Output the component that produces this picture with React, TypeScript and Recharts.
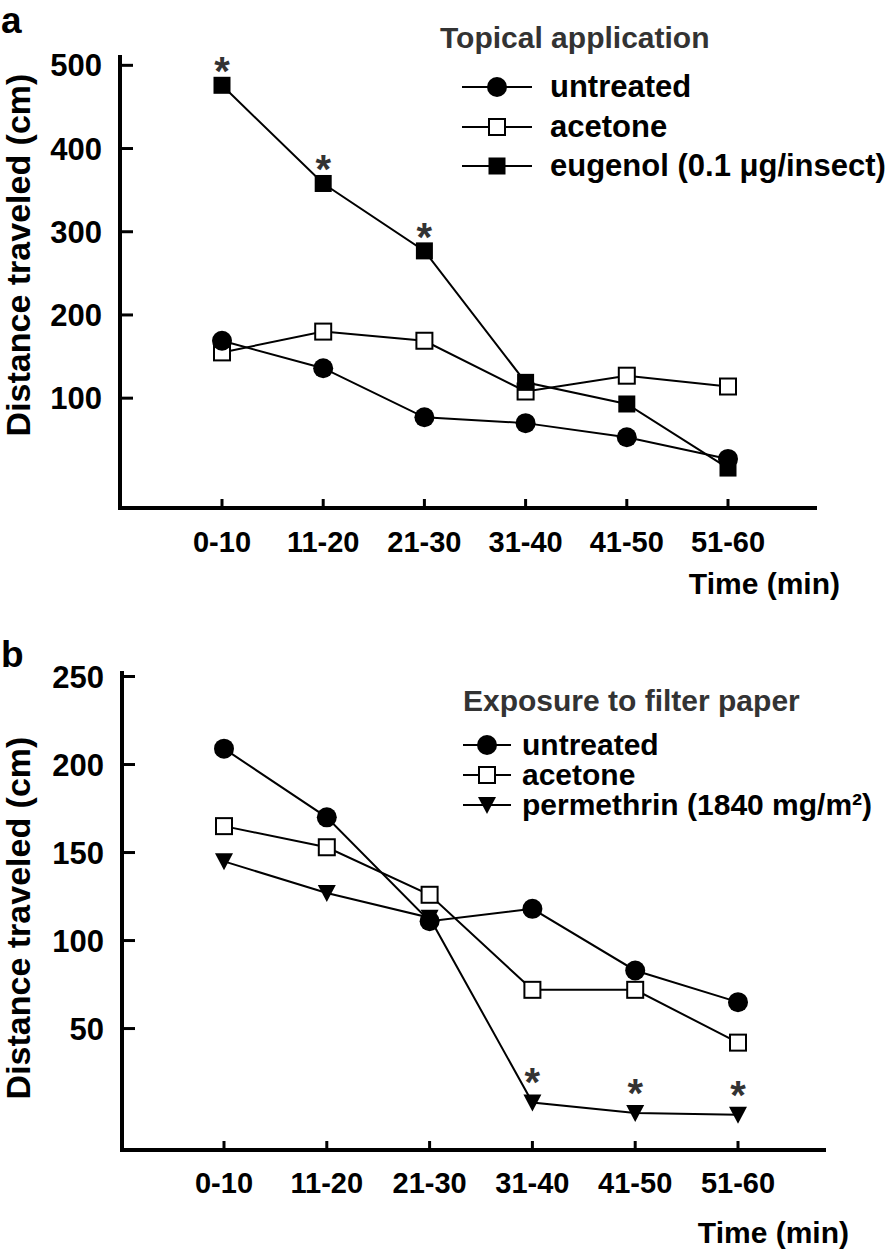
import { LineChart, Line, XAxis, YAxis, Legend, Label } from "recharts";

const FONT = '"Liberation Sans", Arial, Helvetica, sans-serif';

const categories = ["0-10", "11-20", "21-30", "31-40", "41-50", "51-60"];

// a: topical application
const untreatedA = [169, 136, 77, 70, 53, 27];
const acetoneA = [155, 180, 169, 108, 127, 114];
const eugenolA = [476, 358, 277, 119, 93, 16];
const starsA = [true, true, true, false, false, false];
const ticksA = [100, 200, 300, 400, 500];

// b: exposure to filter paper
const untreatedB = [209, 170, 111, 118, 83, 65];
const acetoneB = [165, 153, 126, 72, 72, 42];
const permethrinB = [145, 127, 113, 8, 2, 1];
const starsB = [false, false, false, true, true, true];
const ticksB = [50, 100, 150, 200, 250];

const dataA = categories.map((t, i) => ({
  t,
  untreated: untreatedA[i],
  acetone: acetoneA[i],
  eugenol: eugenolA[i],
}));

const dataB = categories.map((t, i) => ({
  t,
  untreated: untreatedB[i],
  acetone: acetoneB[i],
  permethrin: permethrinB[i],
}));

const legendA = [
  { key: "untreated", shape: "circle" },
  { key: "acetone", shape: "open" },
  { key: "eugenol", shape: "square" },
];

const legendB = [
  { key: "untreated", shape: "circle" },
  { key: "acetone", shape: "open" },
  { key: "permethrin", shape: "tri" },
];

function Marker({ shape, cx, cy }: { shape: string; cx: number; cy: number }) {
  if (shape === "circle") return <circle cx={cx} cy={cy} r={10} fill="#000" />;
  if (shape === "square")
    return <rect x={cx - 8.5} y={cy - 8.5} width={17} height={17} fill="#000" />;
  if (shape === "open")
    return (
      <rect x={cx - 8} y={cy - 8} width={16} height={16} fill="#fff" stroke="#000" strokeWidth={2} />
    );
  return <path d={`M${cx - 9},${cy - 8}L${cx + 9},${cy - 8}L${cx},${cy + 9}Z`} fill="#000" />;
}

// dot renderer, with the significance star above flagged points
const dotOf = (shape: string, stars?: boolean[], lift = 0) => (p: any) => {
  if (p.cx == null || p.cy == null) return <g key={`${shape}-${p.index}`} />;
  return (
    <g key={`${shape}-${p.index}`}>
      <Marker shape={shape} cx={p.cx} cy={p.cy} />
      {stars && stars[p.index] ? (
        <text
          x={p.cx}
          y={p.cy - lift}
          textAnchor="middle"
          fontSize={40}
          fontWeight="bold"
          fontFamily={FONT}
          fill="#333"
        >
          *
        </text>
      ) : null}
    </g>
  );
};

const makeLegend =
  (title: string, rows: { key: string; shape: string }[], pos: any) => (props: any) => {
    const payload = props.payload || [];
    const h = pos.rowH;
    return (
      <div style={{ position: "relative", fontFamily: FONT, fontWeight: "bold" }}>
        <div
          style={{
            position: "absolute",
            left: pos.titleX,
            top: pos.titleY - 17,
            lineHeight: "34px",
            fontSize: 30,
            color: "#333",
            whiteSpace: "nowrap",
          }}
        >
          {title}
        </div>
        {rows.map((r, i) => {
          const entry = payload.find((e: any) => e.dataKey === r.key);
          return (
            <div
              key={r.key}
              style={{
                position: "absolute",
                left: pos.lineX,
                top: pos.rowY[i] - h / 2,
                height: h,
                display: "flex",
                alignItems: "center",
                whiteSpace: "nowrap",
              }}
            >
              <svg width={pos.lineW} height={h} style={{ display: "block" }}>
                <line x1={0} y1={h / 2} x2={pos.lineW} y2={h / 2} stroke="#000" strokeWidth={2} />
                <Marker shape={r.shape} cx={pos.lineW / 2} cy={h / 2} />
              </svg>
              <span
                style={{
                  marginLeft: pos.gap,
                  fontSize: pos.fontSize,
                  lineHeight: `${h}px`,
                  color: "#000",
                }}
              >
                {entry ? entry.value : r.key}
              </span>
            </div>
          );
        })}
      </div>
    );
  };

const yTitle = (cy: number) => () => (
  <text
    x={18}
    y={cy}
    transform={`rotate(-90, 18, ${cy})`}
    textAnchor="middle"
    dominantBaseline="central"
    fontSize={34}
    fontWeight="bold"
    fontFamily={FONT}
    fill="#000"
  >
    Distance traveled (cm)
  </text>
);

const timeTitle = (dy: number) => (props: any) => {
  const vb = props.viewBox || { x: 0, y: 0, width: 0, height: 0 };
  return (
    <text
      x={vb.x + vb.width + 25}
      y={vb.y + dy}
      textAnchor="end"
      fontSize={30}
      fontWeight="bold"
      fontFamily={FONT}
      fill="#000"
    >
      Time (min)
    </text>
  );
};

const axisLine = { stroke: "#000", strokeWidth: 4, strokeLinecap: "square" as const };
const tickLine = { stroke: "#000", strokeWidth: 3 };
const tickFont = { fill: "#000", fontSize: 29, fontWeight: "bold", fontFamily: FONT };

const panelLetter = (top: number): any => ({
  position: "absolute",
  left: 1,
  top,
  fontSize: 37,
  lineHeight: "normal",
  fontWeight: "bold",
  zIndex: 2,
});

export default function App() {
  return (
    <div
      style={{
        position: "absolute",
        left: 0,
        top: 0,
        width: 894,
        height: 1252,
        background: "#fff",
        fontFamily: FONT,
      }}
    >
      <div style={panelLetter(0)}>a</div>
      <div style={panelLetter(634)}>b</div>

      <div style={{ position: "absolute", left: 0, top: 0 }}>
        <LineChart width={894} height={620} data={dataA} margin={{ top: 57, right: 79, left: 0, bottom: 0 }}>
          <XAxis
            dataKey="t"
            padding={{ left: 102, right: 87 }}
            height={112}
            interval={0}
            axisLine={axisLine}
            tickLine={tickLine}
            tickSize={-9}
            tickMargin={32}
            tick={tickFont}
            label={<Label content={timeTitle(86)} />}
          />
          <YAxis
            type="number"
            domain={[-32, 510]}
            ticks={ticksA}
            interval={0}
            width={120}
            axisLine={axisLine}
            tickLine={tickLine}
            tickSize={-13}
            tickMargin={31}
            tick={{ ...tickFont, fontSize: 31 }}
            label={<Label content={yTitle(255)} />}
          />
          <Legend
            layout="vertical"
            align="center"
            verticalAlign="middle"
            wrapperStyle={{ left: 0, top: 0, width: 894, height: 0 }}
            content={makeLegend("Topical application", legendA, {
              titleX: 440,
              titleY: 38,
              lineX: 462,
              lineW: 70,
              gap: 18,
              rowH: 38,
              fontSize: 31,
              rowY: [87, 127, 166],
            })}
          />
          <Line
            dataKey="acetone"
            name="acetone"
            stroke="#000"
            strokeWidth={2}
            dot={dotOf("open")}
            isAnimationActive={false}
          />
          <Line
            dataKey="untreated"
            name="untreated"
            stroke="#000"
            strokeWidth={2}
            dot={dotOf("circle")}
            isAnimationActive={false}
          />
          <Line
            dataKey="eugenol"
            name="eugenol (0.1 μg/insect)"
            stroke="#000"
            strokeWidth={2}
            dot={dotOf("square", starsA, 0)}
            isAnimationActive={false}
          />
        </LineChart>
      </div>

      <div style={{ position: "absolute", left: 0, top: 620 }}>
        <LineChart width={894} height={632} data={dataB} margin={{ top: 53, right: 70, left: 0, bottom: 0 }}>
          <XAxis
            dataKey="t"
            padding={{ left: 102, right: 86 }}
            height={102}
            interval={0}
            axisLine={axisLine}
            tickLine={tickLine}
            tickSize={-9}
            tickMargin={31}
            tick={tickFont}
            label={<Label content={timeTitle(93)} />}
          />
          <YAxis
            type="number"
            domain={[-19, 252]}
            ticks={ticksB}
            interval={0}
            width={122}
            axisLine={axisLine}
            tickLine={tickLine}
            tickSize={-13}
            tickMargin={31}
            tick={{ ...tickFont, fontSize: 31 }}
            label={<Label content={yTitle(298)} />}
          />
          <Legend
            layout="vertical"
            align="center"
            verticalAlign="middle"
            wrapperStyle={{ left: 0, top: 0, width: 894, height: 0 }}
            content={makeLegend("Exposure to filter paper", legendB, {
              titleX: 463,
              titleY: 81,
              lineX: 463,
              lineW: 48,
              gap: 11,
              rowH: 30,
              fontSize: 30,
              rowY: [125, 155, 185],
            })}
          />
          <Line
            dataKey="permethrin"
            name="permethrin (1840 mg/m²)"
            stroke="#000"
            strokeWidth={2}
            dot={dotOf("tri", starsB, 6)}
            isAnimationActive={false}
          />
          <Line
            dataKey="acetone"
            name="acetone"
            stroke="#000"
            strokeWidth={2}
            dot={dotOf("open")}
            isAnimationActive={false}
          />
          <Line
            dataKey="untreated"
            name="untreated"
            stroke="#000"
            strokeWidth={2}
            dot={dotOf("circle")}
            isAnimationActive={false}
          />
        </LineChart>
      </div>
    </div>
  );
}
